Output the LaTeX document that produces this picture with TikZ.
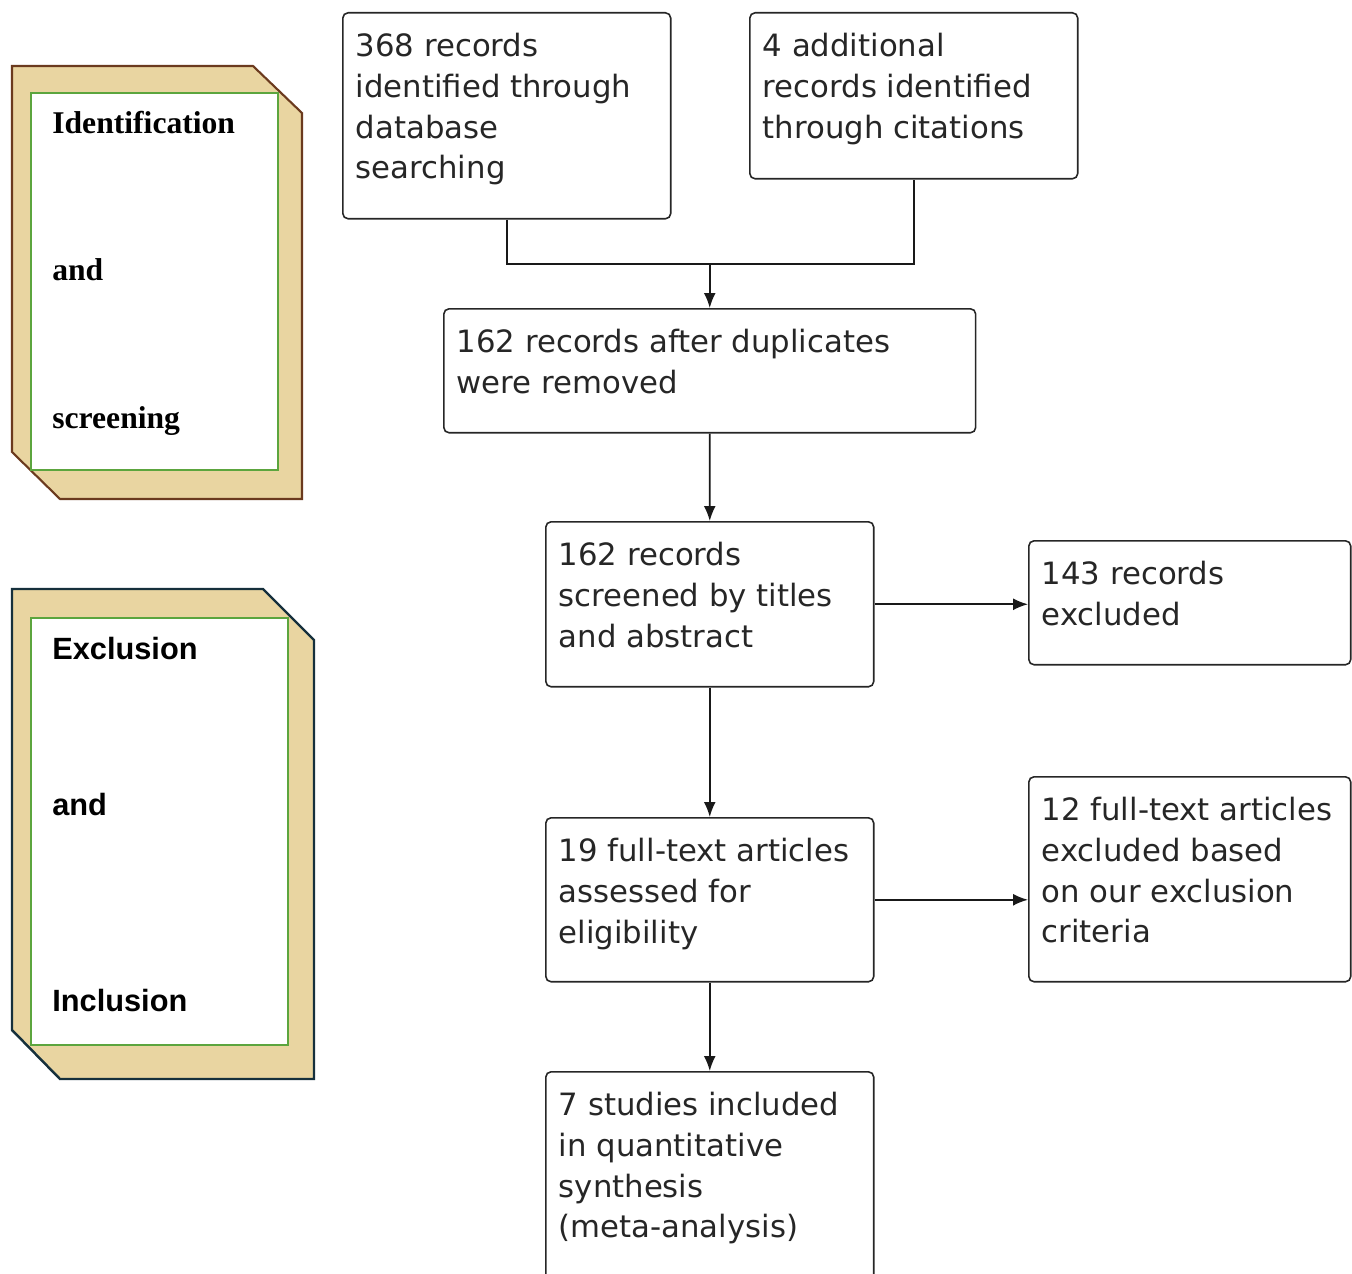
\documentclass[tikz,border=0pt]{standalone}
\usepackage{fontspec}
\usetikzlibrary{arrows.meta}
\newfontfamily\stagefont{DejaVu Sans}
\newfontfamily\phaseserif{Liberation Serif}
\newfontfamily\phasesans{Liberation Sans}
\definecolor{papyrus}{HTML}{E9D5A1}
\definecolor{bark}{HTML}{6B3A1E}
\definecolor{leaf}{HTML}{5CA53E}
\definecolor{panelnavy}{HTML}{16303C}
\newcommand{\stagetext}[3]{\parbox[t][#2][t]{#1}{\raggedright #3}}

\begin{document}
\begin{tikzpicture}[x=0.02cm, y=-0.02cm,
					stage/.style={draw=black!85, line width=0.9pt, rounded corners=3pt, anchor=north west,
						inner xsep=0.26cm, inner ysep=0.4cm, text=black!85,
						font=\stagefont\fontsize{17.5}{23.3}\selectfont},
					flow/.style={line width=1pt, draw=black!90, -{Latex[length=0.3cm,width=0.24cm]}},
					phase/.style={anchor=base west, inner sep=0pt}]
\useasboundingbox (0,0) rectangle (1352,1274);
\clip (0,0) rectangle (1352,1274);

% side panels
\draw[bark, line width=1.2pt, fill=papyrus] (12,66) -- (253,66) -- (302,113) -- (302,499) -- (60,499) -- (12,452) -- cycle;
\draw[leaf, line width=1.2pt, fill=white] (31,93) rectangle (278,470);
\node[phase, font=\phaseserif\bfseries\fontsize{18}{22}\selectfont] (ident) at (52,133) {Identification};
\node[phase, font=\phaseserif\bfseries\fontsize{18}{22}\selectfont] (and1) at (52,280) {and};
\node[phase, font=\phaseserif\bfseries\fontsize{18}{22}\selectfont] (screen) at (52,428) {screening};

\draw[panelnavy, line width=1.4pt, fill=papyrus] (12,589) -- (263,589) -- (314,640) -- (314,1079) -- (60,1079) -- (12,1030) -- cycle;
\draw[leaf, line width=0.8pt, fill=white] (31,618) rectangle (288,1045);
\node[phase, font=\phasesans\bfseries\fontsize{17.5}{21}\selectfont] (excl) at (52,659) {Exclusion};
\node[phase, font=\phasesans\bfseries\fontsize{17.5}{21}\selectfont] (and2) at (52,815) {and};
\node[phase, font=\phasesans\bfseries\fontsize{17.5}{21}\selectfont] (incl) at (52,1011) {Inclusion};

% flow boxes
\node[stage] (db) at (342,12) {\stagetext{6.04cm}{3.32cm}{368 records\\ identified through\\ database\\ searching}};
\node[stage] (cit) at (749,12) {\stagetext{6.04cm}{2.52cm}{4 additional\\ records identified\\ through citations}};
\node[stage] (dup) at (443,308) {\stagetext{10.12cm}{1.68cm}{162 records after duplicates\\ were removed}};
\node[stage] (scr) at (545,521) {\stagetext{6.04cm}{2.50cm}{162 records\\ screened by titles\\ and abstract}};
\node[stage] (exc) at (1028,540) {\stagetext{5.92cm}{1.68cm}{143 records\\ excluded}};
\node[stage] (full) at (545,817) {\stagetext{6.04cm}{2.48cm}{19 full-text articles\\ assessed for\\ eligibility}};
\node[stage] (fexc) at (1028,776) {\stagetext{5.92cm}{3.30cm}{12 full-text articles\\ excluded based\\ on our exclusion\\ criteria}};
\node[stage] (incl) at (545,1071) {\stagetext{6.04cm}{3.40cm}{7 studies included\\ in quantitative\\ synthesis\\ (meta-analysis)}};

% connectors
\coordinate (merge) at (dup.north |- 0,264);
\draw[line width=1pt, draw=black!90] (db.south) |- (merge) -| (cit.south);
\draw[flow] (merge) -- (dup.north);
\draw[flow] (dup.south) -- (scr.north);
\draw[flow] (scr.east) -- (scr.east -| exc.west);
\draw[flow] (scr.south) -- (full.north);
\draw[flow] (full.east) -- (full.east -| fexc.west);
\draw[flow] (full.south) -- (incl.north);
\end{tikzpicture}
\end{document}
